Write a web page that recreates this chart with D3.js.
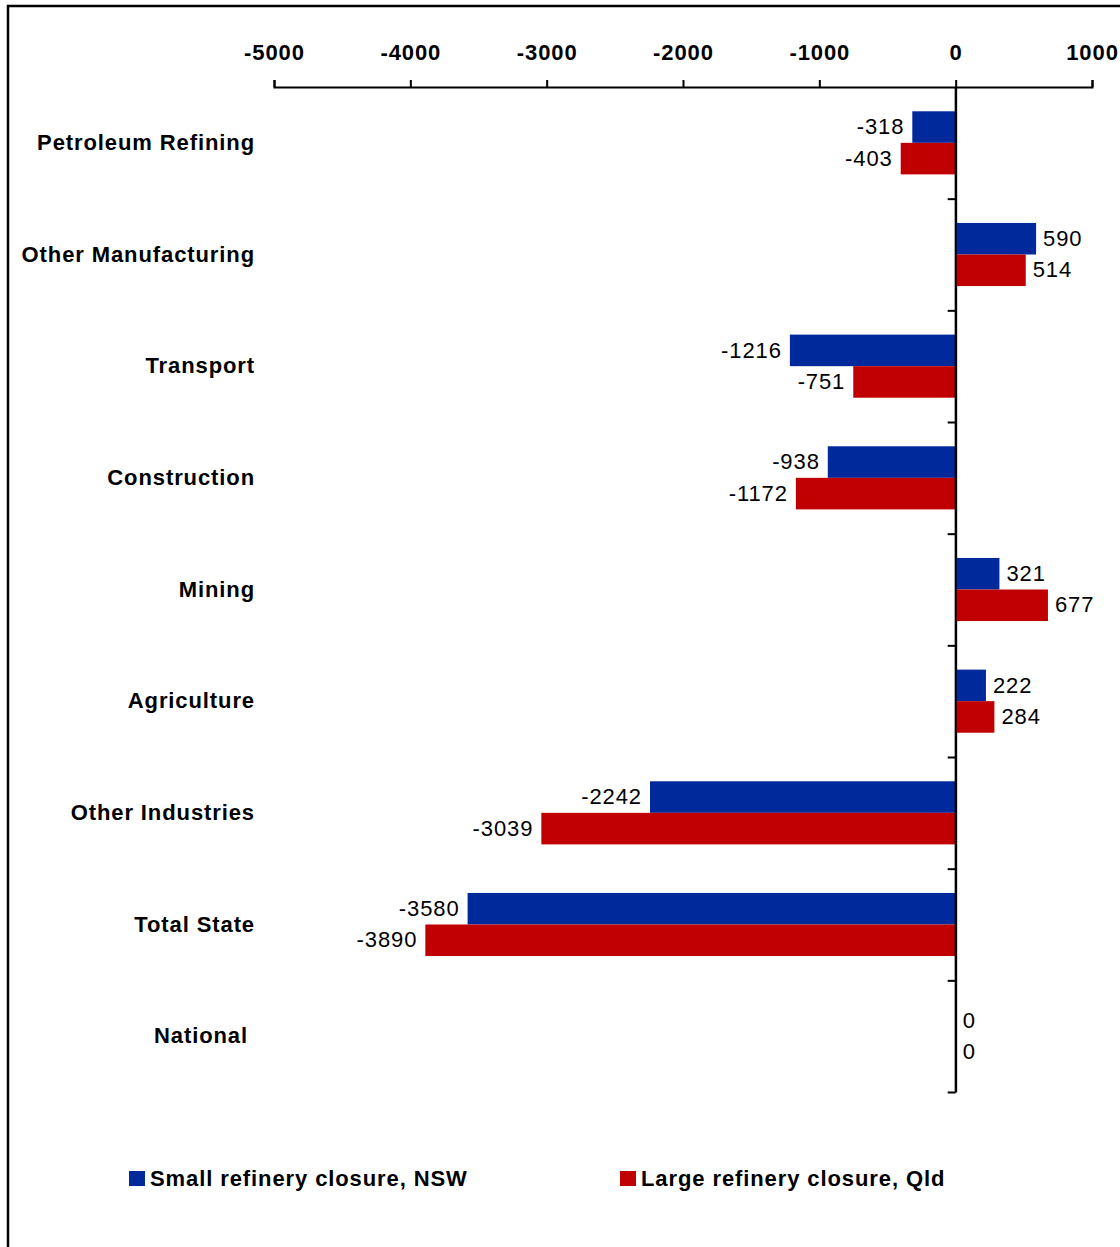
<!DOCTYPE html>
<html>
<head>
<meta charset="utf-8">
<script src="https://cdn.jsdelivr.net/npm/d3@7"></script>
<style>
  html, body { margin: 0; padding: 0; background: #fff; }
  svg { display: block; font-family: "Liberation Sans", Arial, sans-serif; }
</style>
</head>
<body>
<svg id="chart" width="1120" height="1247"></svg>
<script>
// Employment impact by industry under two refinery closure scenarios
const categories = [
  "Petroleum Refining", "Other Manufacturing", "Transport", "Construction",
  "Mining", "Agriculture", "Other Industries", "Total State", "National\u00a0"
];
const seriesNames = ["Small refinery closure, NSW", "Large refinery closure, Qld"];
const smallNSW = [-318, 590, -1216, -938, 321, 222, -2242, -3580, 0];
const largeQld = [-403, 514, -751, -1172, 677, 284, -3039, -3890, 0];
const xTicks = [-5000, -4000, -3000, -2000, -1000, 0, 1000];
const seriesColors = ["#00299B", "#C00000"];

const svg = d3.select("#chart");
const fontSize = 22, letterSp = 0.9, textShift = 7.2;

// outer frame
svg.append("rect")
  .attr("x", 8).attr("y", 6)
  .attr("width", 1140).attr("height", 1270)
  .attr("fill", "none").attr("stroke", "#000").attr("stroke-width", 2.5);

const x = d3.scaleLinear().domain([-5000, 1000]).range([274, 1092]);
const plotTop = 87, plotBottom = 1092;
const y = d3.scaleBand().domain(categories).range([plotTop, plotBottom]).padding(0);
const groupH = y.bandwidth() * 0.565;
const ySub = d3.scaleBand().domain([0, 1]).range([0, groupH]).padding(0);

// top value axis (plain hyphen for negatives)
const xAxis = svg.append("g")
  .attr("transform", `translate(0,${plotTop})`)
  .call(d3.axisTop(x).tickValues(xTicks).tickSize(7).tickSizeOuter(7).tickPadding(20)
        .tickFormat(d => String(d)));
xAxis.select(".domain").attr("stroke", "#000").attr("stroke-width", 2);
xAxis.selectAll(".tick line").attr("stroke", "#000").attr("stroke-width", 2);
xAxis.selectAll(".tick text")
  .attr("font-size", fontSize).attr("font-weight", "bold")
  .attr("letter-spacing", letterSp).attr("fill", "#000")
  .attr("font-family", "'Liberation Sans', Arial, sans-serif");

// category boundary axis at zero
const bounds = d3.scaleLinear().domain([0, categories.length]).range([plotTop, plotBottom]);
const yAxis = svg.append("g")
  .attr("transform", `translate(${x(0)},0)`)
  .call(d3.axisLeft(bounds).tickValues(d3.range(1, categories.length + 1))
        .tickSize(8).tickSizeOuter(0).tickFormat(""));
yAxis.select(".domain").attr("stroke", "#000").attr("stroke-width", 2);
yAxis.selectAll(".tick line").attr("stroke", "#000").attr("stroke-width", 2);

// bars
const series = [smallNSW, largeQld];
const rows = [];
series.forEach((vals, s) => vals.forEach((v, i) => rows.push({ s, cat: categories[i], v })));

const groupTop = c => y(c) + (y.bandwidth() - groupH) / 2;

svg.append("g").selectAll("rect")
  .data(rows.filter(d => d.v !== 0))
  .join("rect")
  .attr("x", d => Math.min(x(0), x(d.v)))
  .attr("width", d => Math.abs(x(d.v) - x(0)))
  .attr("y", d => groupTop(d.cat) + ySub(d.s))
  .attr("height", ySub.bandwidth())
  .attr("fill", d => seriesColors[d.s]);

// redraw the zero line above bars
svg.append("line")
  .attr("x1", x(0)).attr("x2", x(0))
  .attr("y1", plotTop).attr("y2", plotBottom)
  .attr("stroke", "#000").attr("stroke-width", 2);

// value labels
svg.append("g").selectAll("text")
  .data(rows)
  .join("text")
  .attr("x", d => d.v < 0 ? x(d.v) - 8 : x(d.v) + 7)
  .attr("y", d => groupTop(d.cat) + ySub(d.s) + ySub.bandwidth() / 2 + textShift)
  .attr("text-anchor", d => d.v < 0 ? "end" : "start")
  .attr("font-size", fontSize).attr("letter-spacing", letterSp)
  .attr("fill", "#000")
  .text(d => d.v);

// category labels
svg.append("g").selectAll("text")
  .data(categories)
  .join("text")
  .attr("x", 255)
  .attr("y", d => y(d) + y.bandwidth() / 2 + textShift)
  .attr("text-anchor", "end")
  .attr("font-size", fontSize).attr("font-weight", "bold")
  .attr("letter-spacing", letterSp).attr("fill", "#000")
  .style("white-space", "pre")
  .text(d => d);

// legend
const legendX = [129, 620];
const legend = svg.append("g").selectAll("g")
  .data(seriesNames)
  .join("g")
  .attr("transform", (d, i) => `translate(${legendX[i]},1171)`);
legend.append("rect")
  .attr("width", 16).attr("height", 15)
  .attr("fill", (d, i) => seriesColors[i]);
legend.append("text")
  .attr("x", 21).attr("y", 15)
  .attr("font-size", fontSize).attr("font-weight", "bold")
  .attr("letter-spacing", letterSp).attr("fill", "#000")
  .text(d => d);
</script>
</body>
</html>
